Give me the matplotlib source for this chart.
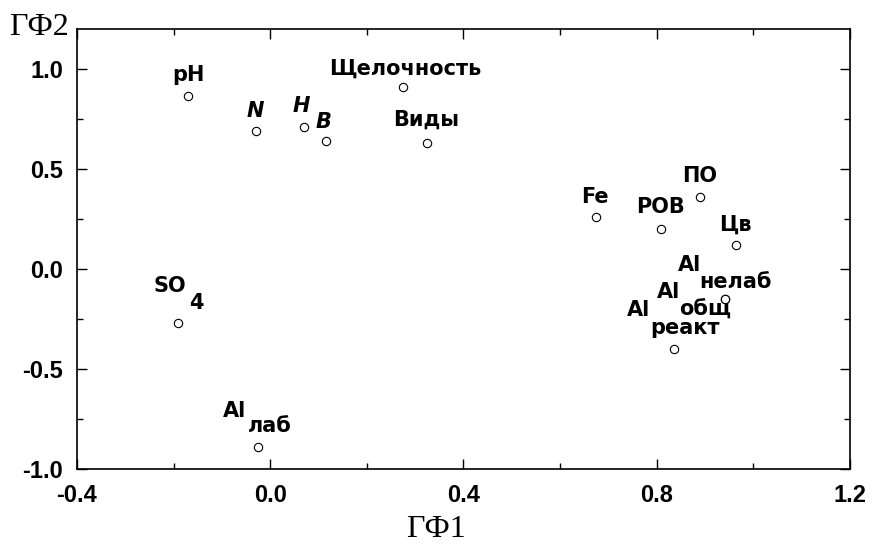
import matplotlib
matplotlib.use("Agg")
import matplotlib.pyplot as plt
from matplotlib.ticker import MultipleLocator, FixedLocator, FormatStrFormatter

# factor loadings on the first two general factors
names = ["pH", "N", "H", "B", "Щелочность", "Виды", "Fe", "РОВ", "ПО", "Цв",
         "Al_нелаб", "Al_общ", "Al_реакт", "SO4", "Al_лаб"]
gf1 = [-0.17, -0.03, 0.07, 0.115, 0.275, 0.325, 0.675, 0.81, 0.89, 0.965,
       0.942, 0.942, 0.835, -0.19, -0.025]
gf2 = [0.865, 0.69, 0.71, 0.64, 0.91, 0.63, 0.26, 0.20, 0.36, 0.12,
       -0.148, -0.148, -0.40, -0.27, -0.89]

# main text / subscript text for the two-part labels
main_text = {"Al_нелаб": "Al", "Al_общ": "Al", "Al_реакт": "Al", "Al_лаб": "Al", "SO4": "SO"}
sub_text = {"Al_нелаб": "нелаб", "Al_общ": "общ", "Al_реакт": "реакт", "Al_лаб": "лаб", "SO4": "4"}
italic = {"N", "H", "B"}

# label placement in pixels from the point (dx, dy up)
centred = {"pH": (0, 15), "N": (0, 14), "H": (-3, 15), "B": (-2, 13),
           "Щелочность": (2, 12), "Виды": (-1, 17), "Fe": (-1, 14),
           "РОВ": (-1, 16), "ПО": (-1, 15), "Цв": (-1, 14)}
split = {"Al_нелаб": ((-47, 28), (-26, 11)),
         "Al_общ": ((-68, 1), (-46, -17)),
         "Al_реакт": ((-47, 33), (-23, 15)),
         "Al_лаб": ((-35, 30), (-10, 15)),
         "SO4": ((-25, 31), (11, 14))}

fig = plt.figure(figsize=(8.69, 5.46), dpi=100)
ax = fig.add_axes([0.0886, 0.141, 0.8894, 0.806])

ax.plot(gf1, gf2, "o", ms=6, mfc="white", mec="black", mew=0.8, zorder=3)

lab_font = dict(family="DejaVu Sans", fontsize=15, fontweight="bold", color="black")
for name, x, y in zip(names, gf1, gf2):
    if name in centred:
        dx, dy = centred[name]
        style = "italic" if name in italic else "normal"
        ax.annotate(name, (x, y), xytext=(dx, dy), textcoords="offset pixels",
                    ha="center", va="baseline", fontstyle=style, zorder=4, **lab_font)
    else:
        (mdx, mdy), (sdx, sdy) = split[name]
        ax.annotate(main_text[name], (x, y), xytext=(mdx, mdy), textcoords="offset pixels",
                    ha="left", va="baseline", zorder=4, **lab_font)
        ax.annotate(sub_text[name], (x, y), xytext=(sdx, sdy), textcoords="offset pixels",
                    ha="left", va="baseline", zorder=4, **lab_font)

ax.set_xlim(-0.4, 1.2)
ax.set_ylim(-1.0, 1.2)
ax.xaxis.set_major_locator(FixedLocator([-0.4, 0.0, 0.4, 0.8, 1.2]))
ax.xaxis.set_minor_locator(MultipleLocator(0.2))
ax.yaxis.set_major_locator(FixedLocator([-1.0, -0.5, 0.0, 0.5, 1.0]))
ax.yaxis.set_minor_locator(MultipleLocator(0.25))
ax.xaxis.set_major_formatter(FormatStrFormatter("%.1f"))
ax.yaxis.set_major_formatter(FormatStrFormatter("%.1f"))
ax.tick_params(which="both", direction="in", top=True, right=True, width=1.0, color="black")
ax.tick_params(which="major", length=7)
ax.tick_params(which="minor", length=4)
ax.tick_params(axis="x", which="major", pad=11)
ax.tick_params(axis="y", which="major", pad=10)
for lbl in ax.get_xticklabels() + ax.get_yticklabels():
    lbl.set_family("Liberation Sans")
    lbl.set_fontsize(17)
    lbl.set_fontweight("bold")
for s in ax.spines.values():
    s.set_linewidth(1.2)

fig.text(0.045, 0.936, "ГФ2", family="Liberation Serif", fontsize=23,
         ha="center", va="baseline")
fig.text(0.502, 0.016, "ГФ1", family="Liberation Serif", fontsize=23,
         ha="center", va="baseline")

fig.savefig("out.png", dpi=100)
